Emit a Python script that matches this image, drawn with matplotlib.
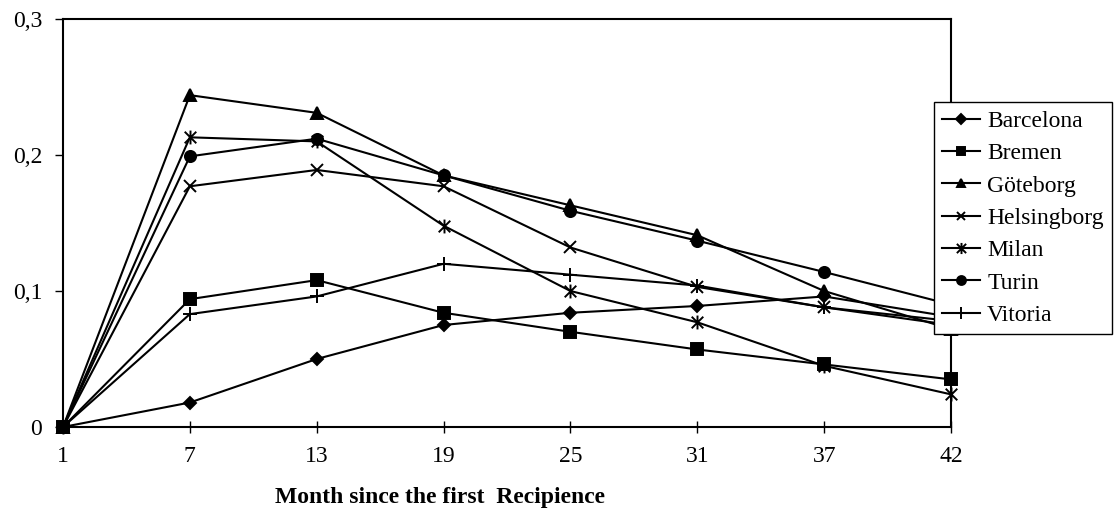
import matplotlib
matplotlib.use('Agg')
import matplotlib.pyplot as plt
from matplotlib.path import Path
import numpy as np

plt.rcParams['font.family'] = ['Liberation Serif', 'DejaVu Serif']

months = ['1', '7', '13', '19', '25', '31', '37', '42']

barcelona = [0, 0.018, 0.050, 0.075, 0.084, 0.089, 0.096, 0.081]
bremen = [0, 0.094, 0.108, 0.084, 0.070, 0.057, 0.046, 0.035]
goteborg = [0, 0.244, 0.231, 0.185, 0.163, 0.141, 0.100, 0.072]
helsingborg = [0, 0.177, 0.189, 0.177, 0.132, 0.103, 0.088, 0.075]
milan = [0, 0.213, 0.210, 0.148, 0.100, 0.077, 0.045, 0.024]
turin = [0, 0.199, 0.212, 0.185, 0.159, 0.137, 0.114, 0.090]
vitoria = [0, 0.083, 0.096, 0.120, 0.112, 0.104, 0.088, 0.078]

names = ['Barcelona', 'Bremen', 'Göteborg', 'Helsingborg', 'Milan', 'Turin', 'Vitoria']
series = [barcelona, bremen, goteborg, helsingborg, milan, turin, vitoria]

# asterisk marker: an x with a vertical bar through it
star = Path([(-1, -1), (1, 1), (-1, 1), (1, -1), (0, -1.2), (0, 1.2)],
            [Path.MOVETO, Path.LINETO, Path.MOVETO, Path.LINETO, Path.MOVETO, Path.LINETO])
markers = ['D', 's', '^', 'x', star, 'o', '+']
sizes = [6, 8, 8, 8, 10, 8, 10]

fig = plt.figure(figsize=(11.14, 5.12), dpi=100)
ax = fig.add_axes([63/1114, 1 - 427/512, (951 - 63)/1114, (427 - 19)/512])

x = np.arange(len(months))
for name, vals, m, ms in zip(names, series, markers, sizes):
    ax.plot(x, vals, color='black', lw=1.5, marker=m, ms=ms,
            mfc='black', mec='black', mew=1.4, label=name, clip_on=False, zorder=3)

ax.set_xlim(0, len(months) - 1)
ax.set_ylim(0, 0.3)
ax.set_xticks(x)
ax.set_xticklabels(months)
ax.set_yticks([0, 0.1, 0.2, 0.3])
ax.set_yticklabels(['0', '0,1', '0,2', '0,3'])
ax.tick_params(axis='x', direction='inout', length=9, width=1, pad=9, labelsize=17)
ax.tick_params(axis='y', direction='out', length=6, width=1, pad=9, labelsize=17)
for s in ax.spines.values():
    s.set_linewidth(1.5)

fig.text(440/1114, 1 - 498/512, 'Month since the first  Recipience',
         ha='center', va='center', fontsize=17, fontweight='bold')

leg = ax.legend(loc='upper left', bbox_to_anchor=(934/1114, 1 - 102/512),
                bbox_transform=fig.transFigure, borderaxespad=0, fontsize=17,
                fancybox=False, framealpha=1, edgecolor='black',
                handlelength=1.6, handletextpad=0.3, borderpad=0.35,
                labelspacing=0.46, markerscale=0.8)
leg.get_frame().set_linewidth(1.0)

fig.savefig('out.png', dpi=100)
